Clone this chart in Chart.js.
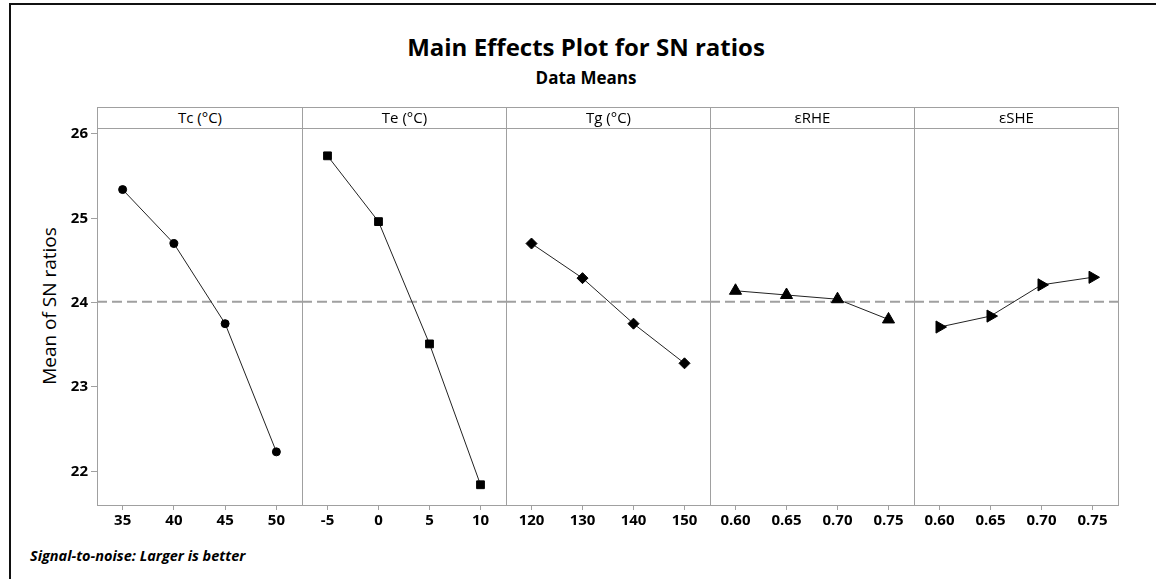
<!DOCTYPE html>
<html>
<head>
<meta charset="utf-8">
<script src="https://cdn.jsdelivr.net/npm/chart.js@4.4.0/dist/chart.umd.min.js"></script>
<style>
html, body { margin: 0; padding: 0; background: #fff; }
#wrap { position: relative; width: 1156px; height: 579px; overflow: hidden; font-family: 'Open Sans', sans-serif; color: #000; }
.frameTop { position: absolute; left: 9px; top: 3px; width: 1147px; height: 2px; background: #111; }
.frameLeft { position: absolute; left: 9px; top: 3px; width: 2px; height: 576px; background: #111; }
#title { position: absolute; left: 0; width: 1172px; top: 34px; line-height: 26px; text-align: center; font-weight: bold; font-size: 24px; }
#subtitle { position: absolute; left: 0; width: 1172px; top: 69px; line-height: 18px; text-align: center; font-weight: bold; font-size: 17px; }
.head { position: absolute; top: 107px; height: 22px; box-sizing: border-box; border: 1px solid #a0a0a0; text-align: center; font-size: 15px; line-height: 19px; }
#ytitle { position: absolute; left: 49px; top: 306px; line-height: 19px; transform: translate(-50%, -50%) rotate(-90deg); white-space: nowrap; font-size: 19px; }
#note { position: absolute; left: 30px; top: 548px; line-height: 16px; font-size: 14.5px; font-weight: bold; font-style: italic; }
canvas { position: absolute; }
</style>
</head>
<body>
<div id="wrap">
  <div class="frameTop"></div>
  <div class="frameLeft"></div>
  <div id="title">Main Effects Plot for SN ratios</div>
  <div id="subtitle">Data Means</div>
  <div id="ytitle">Mean of SN ratios</div>
  <div id="note">Signal-to-noise: Larger is better</div>
</div>
<script>
// factor levels and mean SN ratios
const factorNames = ['Tc (°C)', 'Te (°C)', 'Tg (°C)', 'εRHE', 'εSHE'];

const tcLevels = [35, 40, 45, 50];
const teLevels = [-5, 0, 5, 10];
const tgLevels = [120, 130, 140, 150];
const rheLevels = [0.60, 0.65, 0.70, 0.75];
const sheLevels = [0.60, 0.65, 0.70, 0.75];

const tcTicks = ['35', '40', '45', '50'];
const teTicks = ['-5', '0', '5', '10'];
const tgTicks = ['120', '130', '140', '150'];
const rheTicks = ['0.60', '0.65', '0.70', '0.75'];
const sheTicks = ['0.60', '0.65', '0.70', '0.75'];

const tcSN = [25.34, 24.70, 23.75, 22.23];
const teSN = [25.74, 24.96, 23.51, 21.84];
const tgSN = [24.70, 24.29, 23.75, 23.28];
const rheSN = [24.14, 24.09, 24.04, 23.80];
const sheSN = [23.71, 23.84, 24.21, 24.30];

const overallMean = 24.01;
const yTicks = [22, 23, 24, 25, 26];

const panels = [
  { levels: tcLevels, ticks: tcTicks, sn: tcSN, style: 'circle', r: 4, rot: 0 },
  { levels: teLevels, ticks: teTicks, sn: teSN, style: 'rect', r: 5.5, rot: 0 },
  { levels: tgLevels, ticks: tgTicks, sn: tgSN, style: 'rectRot', r: 5.5, rot: 0 },
  { levels: rheLevels, ticks: rheTicks, sn: rheSN, style: 'triangle', r: 7, rot: 0 },
  { levels: sheLevels, ticks: sheTicks, sn: sheSN, style: 'triangle', r: 7, rot: 90 }
];

// panel frame edges on the page
const edges = [97, 302, 506, 710, 914, 1118];
const plotTop = 128, plotBottom = 505;
const grey = '#a0a0a0';

Chart.defaults.font.family = "'Open Sans', sans-serif";
Chart.defaults.color = '#000';

// grey frame round each panel
const panelBox = {
  id: 'panelBox',
  beforeDatasetsDraw(chart) {
    const a = chart.chartArea, c = chart.ctx;
    const l = Math.round(a.left), t = Math.round(a.top), r = Math.round(a.right), b = Math.round(a.bottom);
    c.save();
    c.strokeStyle = grey;
    c.lineWidth = 1;
    c.strokeRect(l + 0.5, t + 0.5, r - l, b - t);
    c.restore();
  }
};

const wrap = document.getElementById('wrap');

function makeConfig(p, first) {
  const step = p.levels[1] - p.levels[0];
  const xmin = p.levels[0] - step / 2;
  const xmax = p.levels[p.levels.length - 1] + step / 2;
  return {
    type: 'line',
    data: {
      datasets: [{
        data: p.levels.map((x, j) => ({ x: x, y: p.sn[j] })),
        borderColor: '#222',
        borderWidth: 1,
        pointStyle: p.style,
        pointRotation: p.rot,
        pointRadius: p.r,
        pointBackgroundColor: '#000',
        pointBorderColor: '#000',
        pointBorderWidth: 1
      }, {
        data: [{ x: xmin, y: overallMean }, { x: xmax, y: overallMean }],
        borderColor: grey,
        borderWidth: 2,
        borderDash: [10, 5],
        pointRadius: 0
      }]
    },
    options: {
      responsive: false,
      maintainAspectRatio: false,
      animation: false,
      layout: { padding: 12 },
      plugins: { legend: { display: false }, tooltip: { enabled: false } },
      scales: {
        x: {
          type: 'linear',
          min: xmin,
          max: xmax,
          afterBuildTicks: s => { s.ticks = p.levels.map(v => ({ value: v })); },
          afterFit: s => { s.height = 35; },
          ticks: {
            autoSkip: false,
            maxRotation: 0,
            padding: 2,
            font: { size: 15, weight: 'bold' },
            callback: (v, idx) => p.ticks[idx]
          },
          grid: { drawOnChartArea: false, drawTicks: true, tickLength: 5, color: grey },
          border: { display: false }
        },
        y: {
          display: first,
          min: 21.6,
          max: 26.07,
          afterBuildTicks: s => { s.ticks = yTicks.map(v => ({ value: v })); },
          afterFit: s => { s.width = first ? 47 : 0; },
          ticks: { padding: 3, font: { size: 15, weight: 'bold' } },
          grid: { drawOnChartArea: false, drawTicks: true, tickLength: 6, color: grey },
          border: { display: false }
        }
      }
    },
    plugins: [panelBox]
  };
}

panels.forEach((p, i) => {
  const head = document.createElement('div');
  head.className = 'head';
  head.style.left = edges[i] + 'px';
  head.style.width = (edges[i + 1] - edges[i] + 1) + 'px';
  head.textContent = factorNames[i];
  wrap.appendChild(head);

  const first = i === 0;
  const cv = document.createElement('canvas');
  let w = 300, h = 450;
  cv.width = w;
  cv.height = h;
  wrap.appendChild(cv);

  // first pass: measure how much room the axes take, then size the canvas so the
  // plot area lands on the panel frame
  let chart = new Chart(cv.getContext('2d'), makeConfig(p, first));
  const a = chart.chartArea;
  const offL = a.left, offT = a.top;
  const extraW = w - (a.right - a.left), extraH = h - (a.bottom - a.top);
  chart.destroy();

  w = Math.round(edges[i + 1] - edges[i] + extraW);
  h = Math.round(plotBottom - plotTop + extraH);
  cv.width = w;
  cv.height = h;
  cv.style.left = Math.round(edges[i] - offL) + 'px';
  cv.style.top = Math.round(plotTop - offT) + 'px';
  chart = new Chart(cv.getContext('2d'), makeConfig(p, first));
});
</script>
</body>
</html>
